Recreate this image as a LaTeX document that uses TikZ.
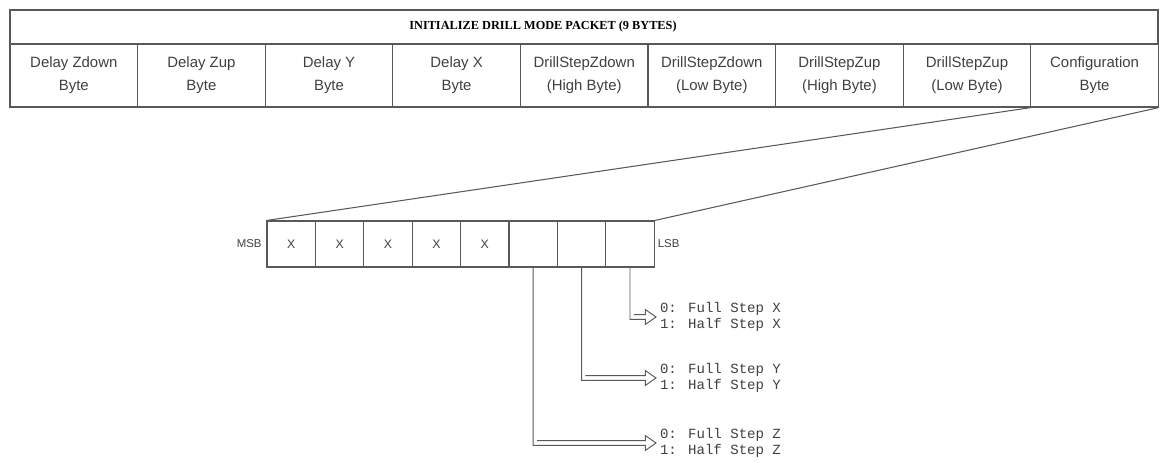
\documentclass[tikz,border=0pt]{standalone}
\usepackage{fontspec}
\setmainfont{Liberation Sans}
\newfontfamily\titlefont{Liberation Serif}
\newfontfamily\codefont{Liberation Mono}
\usetikzlibrary{arrows.meta,positioning}
\definecolor{rule}{gray}{0.35}
\definecolor{ink}{gray}{0.25}

\begin{document}
\begin{tikzpicture}[x=.02cm,y=-.02cm,line width=.6pt,
 field/.style={draw=rule,minimum width=2.552cm,minimum height=1.26cm,inner sep=0pt,align=center,text=ink,font=\fontsize{8.5}{13}\selectfont},
 bitbox/.style={draw=rule,minimum width=.968cm,minimum height=.92cm,inner sep=0pt,text=ink,font=\fontsize{7}{8}\selectfont},
 tag/.style={text=ink,inner sep=1.5pt,font=\fontsize{6.5}{7}\selectfont},
 modes/.style={anchor=west,align=left,inner sep=2pt,text=ink,font=\codefont\fontsize{8}{9}\selectfont},
 hollow/.style={draw=rule,line width=.55pt,line join=miter}]
\useasboundingbox (0,0) rectangle (1160,463);
% packet table
\draw[rule] (10,10) rectangle (1158,44);
\node[font=\titlefont\bfseries\fontsize{7}{8}\selectfont] (title) at (543,27) {INITIALIZE DRILL MODE PACKET (9 BYTES)};
\foreach \i/\t in {1/Delay Zdown\\Byte,2/Delay Zup\\Byte,3/Delay Y\\Byte,4/Delay X\\Byte,
 5/DrillStepZdown\\(High Byte),6/DrillStepZdown\\(Low Byte),7/DrillStepZup\\(High Byte),
 8/DrillStepZup\\(Low Byte),9/Configuration\\Byte}{
 \node[field] (c\i) at ({127.6*\i-53.8},75.5) {\t};
}
% configuration byte
\foreach \i/\t in {7/X,6/X,5/X,4/X,3/X,2/,1/,0/}{
 \node[bitbox] (b\i) at ({291.2+48.4*(7-\i)},244) {\t};
}
\node[tag,left=1pt of b7] (msb) {MSB};
\node[tag,right=0pt of b0] (lsb) {LSB};
\draw[rule] (c8.south east) -- (b7.north west);
\draw[rule] (c9.south east) -- (b0.north east);
% step modes
\node[modes] (bx) at (656,317) {0: Full Step X\\1: Half Step X};
\node[modes] (by) at (656,378) {0: Full Step Y\\1: Half Step Y};
\node[modes] (bz) at (656,443) {0: Full Step Z\\1: Half Step Z};
\foreach \b/\m in {0/bx,1/by,2/bz}{
 \draw[hollow] (b\b.south) -- ([yshift=-1.4pt]b\b.south |- \m.west)
  -- ([yshift=-1.4pt,xshift=-6pt]\m.west) -- ([yshift=-4.2pt,xshift=-6pt]\m.west)
  -- (\m.west) -- ([yshift=4.2pt,xshift=-6pt]\m.west)
  -- ([yshift=1.4pt,xshift=-6pt]\m.west) -- ([yshift=1.4pt,xshift=2.2pt]b\b.south |- \m.west);
}
\end{tikzpicture}
\end{document}
